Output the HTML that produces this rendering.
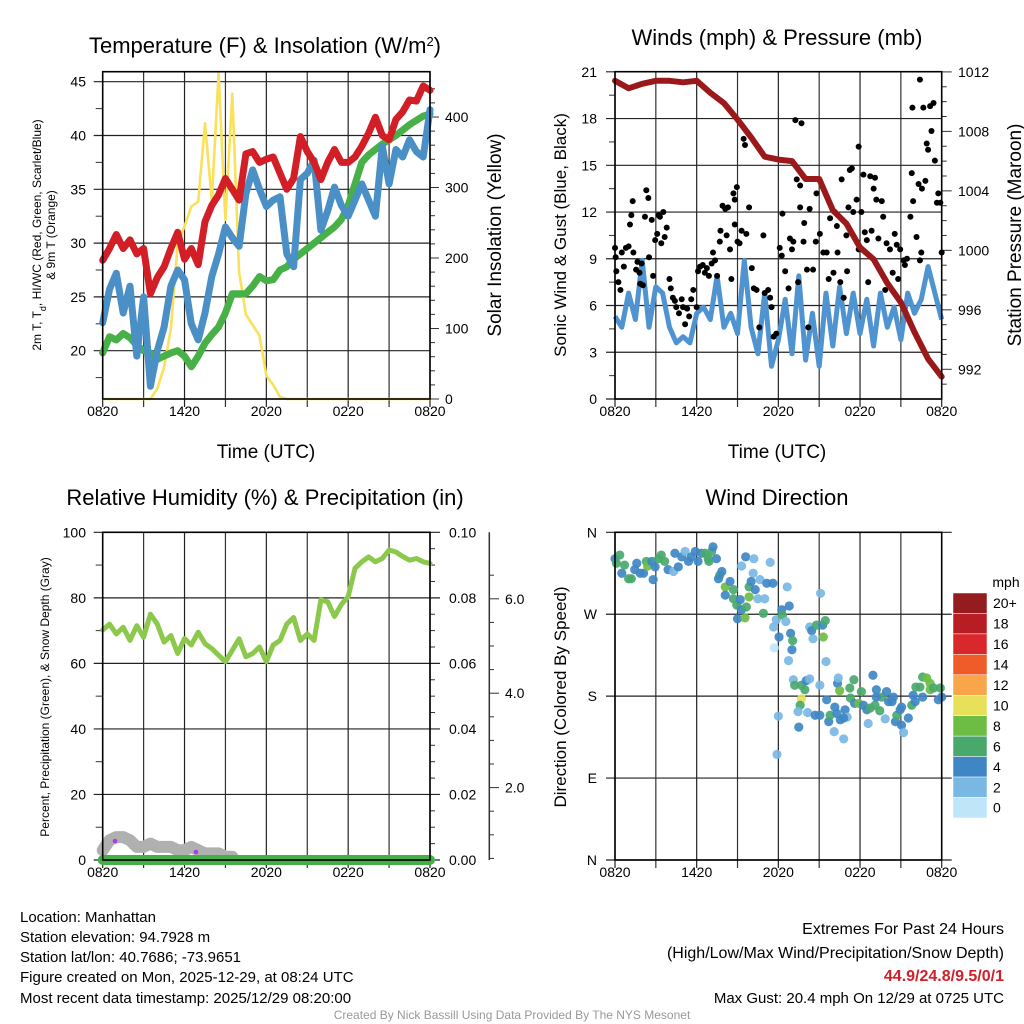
<!DOCTYPE html>
<html><head><meta charset="utf-8"><style>
html,body{margin:0;padding:0;background:#fff;}
svg{display:block;font-family:"Liberation Sans",Arial,sans-serif;}
</style></head><body>
<svg id="s" width="1024" height="1024" xmlns="http://www.w3.org/2000/svg"></svg>
<script>
const halfHours=[0,0.5,1,1.5,2,2.5,3,3.5,4,4.5,5,5.5,6,6.5,7,7.5,8,8.5,9,9.5,10,10.5,11,11.5,12,12.5,13,13.5,14,14.5,15,15.5,16,16.5,17,17.5,18,18.5,19,19.5,20,20.5,21,21.5,22,22.5,23,23.5,24];
const hourly=[0,1,2,3,4,5,6,7,8,9,10,11,12,13,14,15,16,17,18,19,20,21,22,23,24];
const timeTickHours=[0,6,12,18,24];
const timeTickLabels=['0820','1420','2020','0220','0820'];
const tempRed=[28.4,29.5,30.8,29.5,30.3,29,29.5,25.3,26.8,27.8,29.5,31,28.5,29.5,28,32,33.5,34.5,36,35,34,38.3,38.5,37.5,37.8,38,36.5,35,36,39.9,38.5,37.5,35.9,37.5,38.7,37.5,37.5,38,39,40.2,41.7,40,39.6,41.5,42.2,43.3,43.2,44.6,44.2];
const windChillBlue=[22.6,25.7,27.2,23.5,26,19.5,25,16.7,20,22.2,26,27.5,26.6,22.5,21,23.5,26.9,29,31.5,30.5,29.7,34.6,36.8,35,33.4,34,34.3,29,27.8,35.9,36.5,37.7,31.2,33,35.2,33.5,32.5,34,35.5,34,32.5,39,35.5,38.7,38,39.6,38.5,38,42.4];
const dewGreen=[19.8,21.3,21,21.6,21.2,20.5,20,19.8,19.2,19.5,19.8,20,19.5,18.5,19.5,20.7,21.5,22.2,23.5,25.3,25.3,25.3,26,26.9,26.5,26.6,27.5,27.8,28.5,29,29.5,30,30.5,31,31.5,32.2,33.5,35.5,37.5,38.2,38.7,39.2,39.6,40,40.5,41,41.4,41.8,42];
const insolation=[0,0,0,0,0,0,0,0,15,45,100,220,245,273,280,391,282,462,254,433,180,120,105,90,33,20,3,0,0,0,0,0,0,0,0,0,0,0,0,0,0,0,0,0,0,0,0,0,0];
const tempTicks=[20,25,30,35,40,45];
const insTicks=[0,100,200,300,400];
const windSpeed=[5.3,4.6,6.8,5.1,8.9,4.6,7.2,6.8,4.6,3.6,4.0,3.6,5.5,5.9,5.1,7.9,4.6,5.5,4.2,8.9,4.6,2.9,6.8,2.1,3.8,6.4,2.9,7.9,2.5,5.5,2.1,6.8,3.4,7.2,4.2,6.8,4.2,6.4,3.4,6.8,4.6,5.9,3.8,6.8,5.5,6.4,8.5,6.8,5.1];
const pressure=[1011.4,1010.9,1011.2,1011.4,1011.4,1011.3,1011.4,1010.6,1009.9,1008.8,1007.6,1006.3,1006.1,1006,1004.8,1004.8,1002.7,1001.8,1000.2,999.4,997.8,996.5,994.5,992.7,991.5];
const gustHours=[0,0.05,0.1,0.25,0.4,0.5,0.65,0.8,1.0,1.2,1.1,1.3,1.35,1.55,1.65,1.8,1.95,1.85,2.05,2.2,2.3,2.45,2.5,2.7,2.8,2.95,3.1,3.2,3.3,3.4,3.55,3.65,3.8,4.0,4.1,4.25,4.4,4.5,4.7,4.9,5.0,5.15,5.3,5.45,5.6,5.75,6.0,6.1,6.25,6.45,6.6,6.75,6.9,7.1,7.2,7.35,7.5,7.7,7.75,7.9,8.1,8.2,8.3,8.45,8.55,8.7,8.8,8.95,8.8,9.0,9.15,9.3,9.45,9.55,9.65,9.85,10.05,10.2,10.4,10.6,10.9,11.0,11.25,11.4,11.5,11.65,11.85,12.1,12.25,12.3,12.5,12.75,12.85,13.0,13.1,13.25,13.35,13.45,13.6,13.6,13.7,13.85,13.9,14.1,14.2,14.3,14.55,14.75,14.8,15.05,15.3,15.55,15.7,15.8,16.05,16.15,16.3,16.35,16.55,16.65,16.8,17.0,17.05,17.15,17.25,17.4,17.5,17.75,17.9,17.9,18.1,18.25,18.35,18.5,18.6,18.75,18.85,19.0,19.1,19.2,19.35,19.6,19.7,19.85,19.95,20.2,20.4,20.55,20.7,20.8,20.95,21.2,21.3,21.45,21.7,21.8,21.9,22.15,22.3,22.4,22.5,22.55,22.8,21.85,22.4,22.65,22.9,23.0,23.15,23.25,23.4,23.5,23.65,23.75,23.9,24.0];
const gustMph=[9.7,9.1,8.2,7.5,7.0,9.4,8.5,9.7,9.8,11.8,11.2,12.7,9.4,8.3,8.8,8.1,8.7,7.4,7.3,11.7,13.4,12.9,9.1,11.5,7.9,10.2,10.6,11.8,11.7,10.0,12.0,10.4,11.0,7.7,7.1,6.5,6.3,5.9,5.5,6.4,5.9,4.8,5.8,5.3,6.4,7.0,5.9,8.2,8.5,8.6,8.1,8.4,7.9,8.7,9.4,8.9,7.9,10.1,10.8,12.4,12.2,10.5,12.3,9.6,7.7,13.2,12.8,13.6,11.2,10.1,10.0,10.8,16.7,16.3,10.6,12.3,8.4,7.1,7.0,4.6,10.5,6.8,7.0,6.5,5.9,4.0,4.2,9.7,9.2,11.9,8.2,7.1,10.3,9.6,10.1,17.9,14.1,7.5,13.7,12.3,17.7,10.1,11.3,8.3,4.6,12.2,8.3,10.1,13.2,10.6,9.4,9.4,7.7,11.6,8.1,12.0,11.1,9.4,7.5,14.1,6.5,10.5,8.2,12.3,14.7,14.8,12.0,12.8,16.2,9.6,12.0,14.4,10.7,10.2,7.5,14.3,10.8,13.5,14.2,12.8,10.3,12.7,11.7,7.0,10.0,9.6,8.1,10.6,9.9,7.7,9.6,8.9,8.6,9.0,11.7,14.5,12.7,10.4,13.8,8.9,9.4,13.5,14.0,18.7,20.5,18.7,16.4,16.0,18.8,17.2,19.0,15.3,12.6,13.2,12.6,9.4];
const windTicks=[0,3,6,9,12,15,18,21];
const pressTicks=[992,996,1000,1004,1008,1012];
const rhPercent=[70.2,72,69,71,67,71.5,68,75,72,66.5,68.5,63,67.6,65.6,69.5,66,64.5,62.5,60.5,64,67.5,62,63,65,60.5,65.6,67,72,74,67,69,67,79.4,78.8,74.3,78,80.4,89,91,92.5,91,92,94.6,94,92.6,91.5,92,91,90.5];
const precipIn=[0,0,0,0,0,0,0,0,0,0,0,0,0,0,0,0,0,0,0,0,0,0,0,0,0];
const snowHours=[0,0.5,1,1.5,2,2.5,3,3.5,4,4.5,5,5.5,6,6.5,7,7.5,8,8.5,9,9.5];
const snowOnPrecipScale=[0.003,0.006,0.007,0.007,0.006,0.004,0.004,0.005,0.004,0.004,0.004,0.003,0.003,0.004,0.003,0.002,0.002,0.002,0.001,0.001];
const rhTicks=[0,20,40,60,80,100];
const precipTicks=['0.00','0.02','0.04','0.06','0.08','0.10'];
const snowTicks=['2.0','4.0','6.0'];
const dirHours=[0,0.35,0.1,0.5,0.7,1.0,1.2,1.45,1.6,1.85,2.1,2.3,2.4,2.7,2.8,2.95,3.2,3.4,3.65,3.9,4.3,4.4,4.65,4.9,5.15,5.4,5.6,5.9,6.1,6.35,6.6,6.85,7.1,7.2,7.45,6.9,7.7,7.85,7.6,8.1,8.45,8.7,8.1,8.7,8.95,9.2,9.3,9.0,9.55,9.65,9.6,9.3,10.2,10.15,9.85,9.85,10.0,10.3,10.5,10.65,11.0,11.15,11.4,11.6,10.9,11.65,11.85,12.05,11.7,12.25,12.3,12.55,12.65,12.8,12.9,13.05,13.0,12.75,14.3,14.45,14.55,14.8,15.25,15.45,15.3,15.5,15.1,13.1,13.2,13.7,13.95,14.05,14.3,13.7,13.6,13.45,12.0,11.9,13.5,14.15,14.7,15.05,15.05,15.55,15.7,15.8,16.1,16.15,16.35,16.4,16.5,16.55,16.8,16.9,17.05,17.25,17.3,17.55,17.6,17.9,18.1,18.25,18.5,18.6,18.75,18.95,19.1,19.2,19.45,19.6,19.85,19.95,20.1,20.35,20.6,20.7,20.95,21.05,21.2,21.05,21.55,21.8,21.9,22.05,22.1,22.4,22.6,22.9,23.15,23.15,23.4,23.75,24.0,23.9,22.6,16.3,16.8,19.2,20.45];
const dirDeg=[331,335,326,315,324,309,309,319,326,315,315,328,323,328,308,322,331,335,328,319,317,337,322,333,339,328,333,339,328,337,337,331,339,344,331,328,313,317,309,300,306,297,291,287,280,286,275,265,266,278,333,323,331,315,300,289,306,297,287,308,287,304,327,304,271,256,264,245,233,275,269,262,300,279,249,241,231,219,256,252,243,258,258,263,245,218,293,198,192,192,187,197,199,177,170,163,158,116,146,162,159,192,159,176,152,159,141,168,194,200,186,154,133,165,157,189,178,198,172,172,185,170,165,150,167,203,170,187,164,179,155,185,174,174,152,159,165,148,140,168,156,170,181,174,190,190,201,200,194,187,189,176,179,189,179,161,156,179,179];
const dirSpeed=[4.5,6.5,6.5,4.5,6.5,6.5,6.5,4.5,4.5,4.5,4.5,6.5,8.5,4.5,4.5,4.5,6.5,6.5,6.5,4.5,2.5,4.5,4.5,4.5,2.5,4.5,4.5,4.5,4.5,4.5,6.5,6.5,6.5,4.5,4.5,6.5,6.5,4.5,4.5,8.5,4.5,6.5,4.5,6.5,6.5,4.5,4.5,4.5,8.5,6.5,4.5,2.5,2.5,2.5,6.5,8.5,4.5,4.5,2.5,2.5,2.5,4.5,2.5,4.5,6.5,2.5,2.5,4.5,1,4.5,6.5,2.5,2.5,4.5,4.5,6.5,4.5,2.5,2.5,4.5,2.5,6.5,4.5,6.5,8.5,2.5,2.5,2.5,6.5,6.5,6.5,4.5,2.5,10.5,6.5,2.5,2.5,2.5,4.5,2.5,4.5,2.5,4.5,4.5,4.5,6.5,2.5,4.5,4.5,2.5,8.5,4.5,2.5,4.5,2.5,6.5,6.5,6.5,4.5,8.5,6.5,4.5,4.5,2.5,6.5,4.5,6.5,4.5,6.5,6.5,2.5,4.5,4.5,4.5,4.5,6.5,4.5,4.5,2.5,4.5,4.5,6.5,4.5,4.5,6.5,6.5,6.5,8.5,8.5,8.5,6.5,4.5,4.5,6.5,4.5,4.5,4.5,4.5,4.5];
const dirTickDeg=[0,90,180,270,360];
const dirTickLabels=['N','E','S','W','N'];
const speedBins=[0,2,4,6,8,10,12,14,16,18,20];
const speedBinLabels=['0','2','4','6','8','10','12','14','16','18','20+'];
const speedColors=['#bfe5f8','#7ab8e4','#3f87c4','#49a96c','#6dbd45','#e6e05a','#f9a64a','#ef5b29','#d9272b','#b71d23','#941b1e'];

const NS='http://www.w3.org/2000/svg';
const svg=document.getElementById('s');
function mk(tag,attrs,parent){const e=document.createElementNS(NS,tag);for(const k in attrs)e.setAttribute(k,attrs[k]);(parent||svg).appendChild(e);return e;}
function txt(str,x,y,size,anchor,extra){const t=mk('text',Object.assign({x:x,y:y,'font-size':size,'text-anchor':anchor||'middle',fill:'#000'},extra||{}));t.textContent=str;return t;}
function pathFrom(xs,ys){let d='';for(let i=0;i<xs.length;i++)d+=(i?'L':'M')+xs[i].toFixed(1)+','+ys[i].toFixed(1);return d;}

function makePanel(x0,x1,y0,y1){return {x0,x1,y0,y1,x:h=>x0+h*(x1-x0)/24};}
const P1=makePanel(102.7,430,71.7,399);
const P2=makePanel(615,941.7,71.7,399);
const P3=makePanel(102.7,430,532.3,860);
const P4=makePanel(615,941.7,532.3,860);
const yTemp=v=>81.7+(45-v)*10.76;
const yIns=v=>399-v*0.705;
const yWind=v=>399-v*15.58;
const yPress=p=>369.3-(p-992)*14.87;
const yRH=v=>860-v*3.277;
const yPrecip=v=>860-v*3277;
const ySnow=v=>882-v*47.2;
const yDir=d=>860-d*(327.7/360);

function vGrid(P,nm){
  for(let h=0;h<=24;h+=3){
    const l=mk('line',{x1:P.x(h),x2:P.x(h),y1:P.y0,y2:P.y1+8,stroke:(h%6===0)?'#222':'#333','stroke-width':1.2});
    
    
  }
  for(let i=0;i<timeTickHours.length;i++){
    const t=txt(timeTickLabels[i],P.x(timeTickHours[i]),P.y1+17,14);
    
    
  }
}
function hLine(P,y,nm,ext){
  const l=mk('line',{x1:P.x0-9,x2:P.x1+(ext||0),y1:y,y2:y,stroke:'#222','stroke-width':1.2});
  
  
}
function tick(x1,x2,y,nm){
  const l=mk('line',{x1:x1,x2:x2,y1:y,y2:y,stroke:'#333','stroke-width':1});
  
  
}
function frame(P,nm){
  const r=mk('rect',{x:P.x0,y:P.y0,width:P.x1-P.x0,height:P.y1-P.y0,fill:'none',stroke:'#000','stroke-width':1.6});
  
  
}

/* ---------- Panel 1: Temperature ---------- */
const g1=mk('g',{});


const t1=txt('Temperature (F) & Insolation (W/m',265,53,22);
const sup=mk('tspan',{'baseline-shift':'super','font-size':13},t1);sup.textContent='2';
const cl=mk('tspan',{},t1);cl.textContent=')';


vGrid(P1,'temp');
for(const v of tempTicks){hLine(P1,yTemp(v),'temp-gridline');const t=txt(String(v),86,yTemp(v)+5,14,'end');}
for(let v=17.5;v<46;v+=5){tick(P1.x0-7,P1.x0,yTemp(v),'temp-minor-tick');}
for(const v of insTicks){tick(P1.x1,P1.x1+9,yIns(v),'insolation-tick');const t=txt(String(v),445,yIns(v)+5,14,'start');}
for(let v=20;v<460;v+=20){if(v%100)tick(P1.x1,P1.x1+5,yIns(v),'insolation-minor-tick');}
const insLine=mk('path',{d:pathFrom(halfHours.map(P1.x),insolation.map(yIns)),fill:'none',stroke:'#f9e15a','stroke-width':2.6,'stroke-linejoin':'round'});


const gL=mk('path',{d:pathFrom(halfHours.map(P1.x),dewGreen.map(yTemp)),fill:'none',stroke:'#47b046','stroke-width':7,'stroke-linejoin':'round','stroke-linecap':'round'});


const bL=mk('path',{d:pathFrom(halfHours.map(P1.x),windChillBlue.map(yTemp)),fill:'none',stroke:'#4a8fc6','stroke-width':7,'stroke-linejoin':'round','stroke-linecap':'round'});


const rL=mk('path',{d:pathFrom(halfHours.map(P1.x),tempRed.map(yTemp)),fill:'none',stroke:'#d21f27','stroke-width':7,'stroke-linejoin':'round','stroke-linecap':'round'});


frame(P1,'temp');
const xt1=txt('Time (UTC)',266,458,19);


const yt1=mk('text',{transform:'translate(41,235) rotate(-90)','font-size':12,'text-anchor':'middle'});
yt1.innerHTML='2m T, T<tspan baseline-shift="sub" font-size="9">d</tspan>, HI/WC (Red, Green, Scarlet/Blue)';


const yt1b=txt('& 9m T (Orange)',0,0,12,'middle',{transform:'translate(55,235) rotate(-90)'});


const yr1=txt('Solar Insolation (Yellow)',0,0,19,'middle',{transform:'translate(501,235) rotate(-90)'});



/* ---------- Panel 2: Winds ---------- */
const t2=txt('Winds (mph) & Pressure (mb)',777,45,22);


vGrid(P2,'wind');
for(const v of windTicks){hLine(P2,yWind(v),'wind-gridline');const t=txt(String(v),597,yWind(v)+5,14,'end');}
for(let v=1.5;v<21;v+=3){tick(P2.x0-6,P2.x0,yWind(v),'wind-minor-tick');}
for(const p of pressTicks){tick(P2.x1,P2.x1+10,yPress(p),'pressure-tick');const t=txt(String(p),958,yPress(p)+5,14,'start');}
for(let p=991;p<1012;p++){if(p%4)tick(P2.x1,P2.x1+5,yPress(p),'pressure-minor-tick');}
const wL=mk('path',{d:pathFrom(halfHours.map(P2.x),windSpeed.map(yWind)),fill:'none',stroke:'#4f93d0','stroke-width':5,'stroke-linejoin':'round'});


for(let i=0;i<gustHours.length;i++){
  const c=mk('circle',{cx:P2.x(gustHours[i]),cy:yWind(gustMph[i]),r:3,fill:'#000'});
  
  
}
const pL=mk('path',{d:pathFrom(hourly.map(P2.x),pressure.map(yPress)),fill:'none',stroke:'#9a1a1c','stroke-width':6,'stroke-linejoin':'round','stroke-linecap':'round'});


frame(P2,'wind');
const xt2=txt('Time (UTC)',777,458,19);


const yt2=txt('Sonic Wind & Gust (Blue, Black)',0,0,17,'middle',{transform:'translate(566,235) rotate(-90)'});


const yr2=txt('Station Pressure (Maroon)',0,0,19,'middle',{transform:'translate(1021,235) rotate(-90)'});



/* ---------- Panel 3: RH ---------- */
const t3=txt('Relative Humidity (%) & Precipitation (in)',265,505,22);


vGrid(P3,'rh');
for(let i=0;i<rhTicks.length;i++){const v=rhTicks[i];hLine(P3,yRH(v),'rh-gridline',10);const t=txt(String(v),86,yRH(v)+5,14,'end');
  const p=txt(precipTicks[i],449,yRH(v)+5,14,'start');}
for(let v=10;v<100;v+=20){tick(P3.x0-7,P3.x0,yRH(v),'rh-minor-tick');}
for(let v=5;v<100;v+=5){if(v%20)tick(P3.x1,P3.x1+5,yRH(v),'precip-minor-tick');}
const sAx=mk('line',{x1:489.3,x2:489.3,y1:532.3,y2:860,stroke:'#333','stroke-width':1.5});


for(let v=0.5;v<6.9;v+=0.5){const y=ySnow(v);if(y>532&&y<860)tick(489.3,(Math.abs(v%2)<0.01)?499:494,y,'snow-tick');}
for(const s of snowTicks){const t=txt(s,505,ySnow(parseFloat(s))+5,14,'start');}
const snowL=mk('path',{d:pathFrom(snowHours.map(P3.x),snowOnPrecipScale.map(yPrecip)),fill:'none',stroke:'#b0b0b0','stroke-width':12,'stroke-linejoin':'round','stroke-linecap':'round'});


const rhL=mk('path',{d:pathFrom(halfHours.map(P3.x),rhPercent.map(yRH)),fill:'none',stroke:'#8cc84b','stroke-width':5,'stroke-linejoin':'round','stroke-linecap':'round'});


const prL=mk('path',{d:pathFrom(hourly.map(P3.x),precipIn.map(yPrecip)),fill:'none',stroke:'#46b048','stroke-width':10,'stroke-linecap':'round'});


const pd1=mk('circle',{cx:115,cy:841,r:2.3,fill:'#a63ee8'});


const pd2=mk('circle',{cx:196,cy:852,r:2.3,fill:'#a63ee8'});


frame(P3,'rh');
const yt3=txt('Percent, Precipitation (Green), & Snow Depth (Gray)',0,0,12,'middle',{transform:'translate(49,697) rotate(-90)'});



/* ---------- Panel 4: Wind direction ---------- */
const t4=txt('Wind Direction',777,505,22);


vGrid(P4,'dir');
for(let i=0;i<dirTickDeg.length;i++){hLine(P4,yDir(dirTickDeg[i]),'dir-gridline',10);const t=txt(dirTickLabels[i],597,yDir(dirTickDeg[i])+5,14,'end');}
function speedColor(s){let c=speedColors[0];for(let i=0;i<speedBins.length;i++){if(s>=speedBins[i])c=speedColors[i];}return c;}
for(let i=0;i<dirHours.length;i++){
  const c=mk('circle',{cx:P4.x(dirHours[i]),cy:yDir(dirDeg[i]),r:4.6,fill:speedColor(dirSpeed[i]),'fill-opacity':0.92});
  
  
}
frame(P4,'dir');
const yt4=txt('Direction (Colored By Speed)',0,0,17,'middle',{transform:'translate(566,697) rotate(-90)'});


const cbT=txt('mph',1006,587,14);


const boxH=20.45;
for(let i=0;i<speedBins.length;i++){
  const k=speedBins.length-1-i;
  const r=mk('rect',{x:953,y:593+i*boxH,width:34,height:boxH,fill:speedColors[k],stroke:'#fff','stroke-width':0.5});
  
  
  const t=txt(speedBinLabels[k],993,593+i*boxH+boxH/2+5,14,'start');
  
  
}

/* ---------- footer ---------- */
const leftLines=['Location: Manhattan','Station elevation: 94.7928 m','Station lat/lon: 40.7686; -73.9651','Figure created on Mon, 2025-12-29, at 08:24 UTC','Most recent data timestamp: 2025/12/29 08:20:00'];
const leftY=[922,942,962,982,1003];
for(let i=0;i<leftLines.length;i++){const t=txt(leftLines[i],20,leftY[i],15,'start');}
const r1=txt('Extremes For Past 24 Hours',1004,934,16,'end');


const r2=txt('(High/Low/Max Wind/Precipitation/Snow Depth)',1004,958,16,'end');


const r3=txt('44.9/24.8/9.5/0/1',1004,981,16,'end',{fill:'#d0202a','font-weight':'bold'});


const r4=txt('Max Gust: 20.4 mph On 12/29 at 0725 UTC',1004,1003,15,'end');


const cr=txt('Created By Nick Bassill Using Data Provided By The NYS Mesonet',512,1019,12,'middle',{fill:'#999'});


</script>
</body></html>
